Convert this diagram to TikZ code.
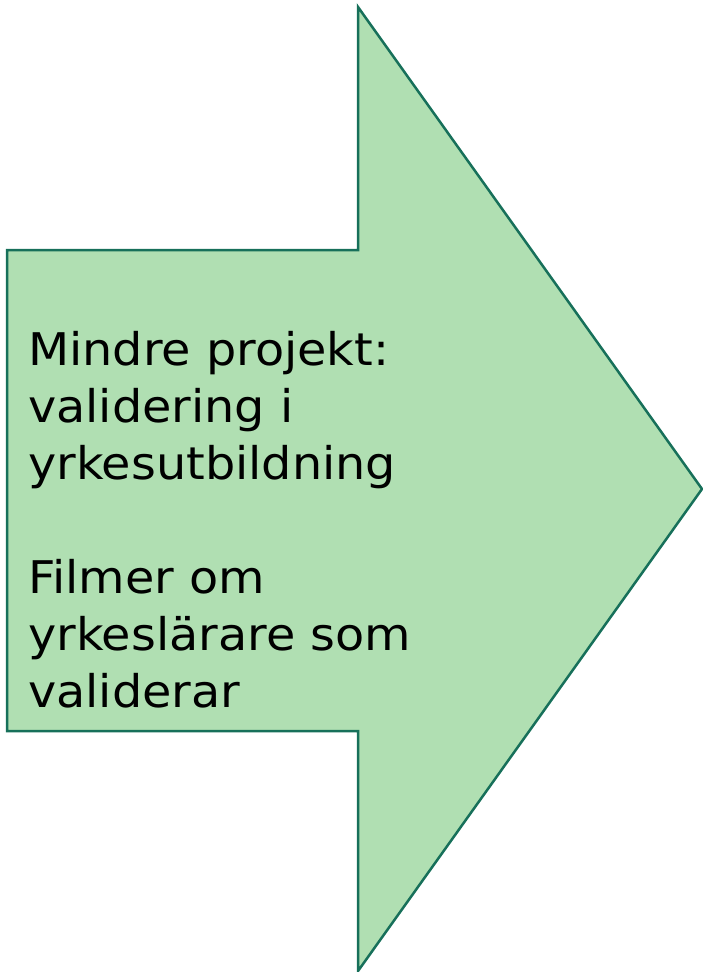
\documentclass[tikz,border=0pt]{standalone}
\usepackage{fontspec}
\setmainfont{DejaVu Sans}
\newfontfamily\widefont[FakeStretch=1.06]{DejaVu Sans}
\definecolor{arrowfill}{RGB}{176,223,178}
\definecolor{arrowline}{RGB}{23,112,90}

\begin{document}
\begin{tikzpicture}[x=1pt,y=-1pt,
	arrowbody/.style={fill=arrowfill, draw=arrowline, line width=2.5pt, line join=miter},
	arrowtext/.style={align=left, inner sep=0pt, anchor=north west, font=\widefont\fontsize{45}{57}\selectfont}]

	\useasboundingbox (0,0) rectangle (703,972);

	% big arrow
	\draw[arrowbody] (7,250) -- (358,250) -- (358,7) -- (702,489) -- (358,971) -- (358,731) -- (7,731) -- cycle;

	\node[arrowtext] (txt) at (28,331) {Mindre projekt:\\validering i\\yrkesutbildning\\[57pt]Filmer om\\yrkeslärare som\\validerar};

\end{tikzpicture}
\end{document}
